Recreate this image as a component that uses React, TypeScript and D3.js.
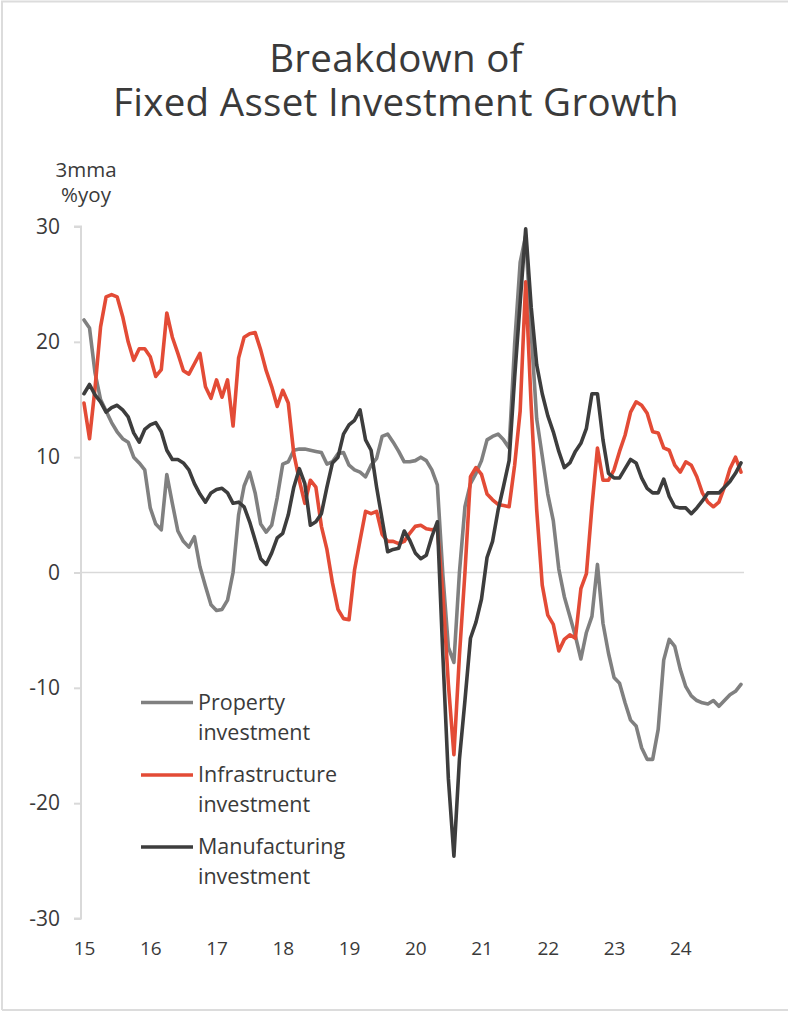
import React, { useEffect, useRef } from "react";
import * as d3 from "d3";

const property = [
  21.9, 21.2, 17.3, 15.0, 14.0, 13.0, 12.2, 11.6, 11.3, 10.0, 9.5, 8.9,
  5.6, 4.2, 3.7, 8.5, 6.0, 3.6, 2.7, 2.2, 3.1, 0.5, -1.2, -2.8,
  -3.3, -3.2, -2.4, 0.0, 5.0, 7.5, 8.7, 6.9, 4.2, 3.5, 4.1, 6.5,
  9.4, 9.6, 10.6, 10.7, 10.7, 10.6, 10.5, 10.4, 9.4, 9.6, 10.3, 10.4,
  9.3, 8.9, 8.7, 8.3, 9.3, 9.9, 11.8, 12.0, 11.3, 10.5, 9.6, 9.6,
  9.7, 10.0, 9.7, 8.9, 7.6, -0.2, -6.5, -7.8, 0.0, 5.7, 7.7, 8.6,
  9.7, 11.5, 11.8, 12.0, 11.5, 10.8, 19.8, 26.9, 29.2, 20.8, 13.3, 10.1,
  6.8, 4.5, 0.3, -2.1, -3.8, -5.5, -7.5, -5.2, -3.8, 0.7, -4.4, -7.0,
  -9.1, -9.6, -11.3, -12.8, -13.3, -15.2, -16.2, -16.2, -13.6, -7.6, -5.8, -6.4,
  -8.4, -9.9, -10.7, -11.1, -11.3, -11.4, -11.1, -11.6, -11.1, -10.6, -10.3, -9.7,
];

const infrastructure = [
  14.7, 11.6, 16.0, 21.3, 23.9, 24.1, 23.9, 22.2, 20.0, 18.4, 19.4, 19.4,
  18.7, 17.0, 17.6, 22.5, 20.4, 19.0, 17.5, 17.2, 18.1, 19.0, 16.1, 15.1,
  16.7, 15.2, 16.7, 12.7, 18.6, 20.4, 20.7, 20.8, 19.3, 17.5, 16.1, 14.4,
  15.8, 14.7, 10.3, 8.0, 6.0, 8.0, 7.4, 4.0, 2.0, -0.9, -3.2, -4.0,
  -4.1, 0.2, 2.8, 5.3, 5.1, 5.3, 3.3, 2.7, 2.7, 2.5, 2.7, 3.4,
  4.0, 4.1, 3.8, 3.7, 3.8, -1.8, -9.7, -15.8, -7.2, 0.0, 8.3, 9.1,
  8.5, 6.8, 6.3, 5.9, 5.8, 5.7, 9.3, 14.0, 25.2, 14.4, 5.4, -1.1,
  -3.7, -4.5, -6.8, -5.8, -5.4, -5.7, -1.4, -0.1, 5.7, 10.8, 8.0, 8.0,
  8.9, 10.5, 11.9, 13.9, 14.8, 14.5, 13.8, 12.2, 12.1, 10.8, 10.6, 9.3,
  8.7, 9.6, 9.3, 8.3, 6.9, 6.1, 5.7, 6.1, 7.4, 9.0, 10.0, 8.7,
];

const manufacturing = [
  15.5, 16.3, 15.4, 14.8, 13.9, 14.3, 14.5, 14.1, 13.5, 12.1, 11.3, 12.4,
  12.8, 13.0, 12.2, 10.6, 9.8, 9.8, 9.5, 8.9, 7.7, 6.8, 6.1, 6.9,
  7.2, 7.3, 6.9, 6.0, 6.1, 5.7, 4.4, 2.8, 1.2, 0.7, 1.7, 3.0,
  3.4, 5.0, 7.4, 9.0, 7.7, 4.1, 4.4, 5.1, 7.4, 9.5, 10.0, 12.0,
  12.8, 13.2, 14.1, 11.5, 10.6, 7.4, 4.6, 1.8, 2.0, 2.1, 3.6, 2.8,
  1.7, 1.2, 1.5, 3.1, 4.4, -7.2, -17.9, -24.6, -16.2, -11.1, -5.7, -4.3,
  -2.3, 1.3, 2.7, 5.4, 7.5, 9.7, 16.9, 23.4, 29.8, 23.0, 18.0, 15.5,
  13.6, 12.2, 10.5, 9.1, 9.5, 10.5, 11.2, 12.5, 15.5, 15.5, 11.5, 8.6,
  8.2, 8.2, 9.0, 9.8, 9.5, 8.2, 7.3, 6.9, 6.9, 8.1, 6.6, 5.7,
  5.6, 5.6, 5.1, 5.6, 6.2, 6.9, 6.9, 6.9, 7.4, 7.9, 8.6, 9.5,
];

const yearLabels = ["15", "16", "17", "18", "19", "20", "21", "22", "23", "24"];
const yTicks = [30, 20, 10, 0, -10, -20, -30];
const titleLines = ["Breakdown of", "Fixed Asset Investment Growth"];
const unitLines = ["3mma", "%yoy"];

const seriesNames = [
  ["Property", "investment"],
  ["Infrastructure", "investment"],
  ["Manufacturing", "investment"],
];
const seriesColors = ["#808080", "#e34b36", "#3d3d3d"];

const W = 788;
const H = 1012;
const FONT = "'Open Sans', Lato, sans-serif";
const TEXT = "#3a3a3a";

export default function App() {
  const ref = useRef<SVGSVGElement>(null);

  useEffect(() => {
    const svg = d3.select(ref.current);
    svg.selectAll("*").remove();

    const x = d3.scaleLinear().domain([0, 119]).range([84, 741]);
    const y = d3.scaleLinear().domain([-30, 30]).range([918.5, 226.5]);

    // frame
    svg.append("path")
      .attr("d", `M2,1010 L2,1.5 L790,1.5 M2,1010 L790,1010`)
      .attr("fill", "none")
      .attr("stroke", "#dcdcdc")
      .attr("stroke-width", 2);

    // title
    titleLines.forEach((t, j) => {
      svg.append("text")
        .attr("text-anchor", "middle")
        .attr("font-family", FONT)
        .attr("font-size", 38.5)
        .attr("letter-spacing", 0.3)
        .attr("fill", TEXT)
        .attr("x", 396)
        .attr("y", 72 + j * 44)
        .text(t);
    });

    // unit label
    unitLines.forEach((t, j) => {
      svg.append("text")
        .attr("text-anchor", "middle")
        .attr("font-family", FONT)
        .attr("font-size", 20.5)
        .attr("fill", TEXT)
        .attr("x", 86)
        .attr("y", 177 + j * 25)
        .text(t);
    });

    // zero line
    svg.append("line")
      .attr("x1", x(0) - 3).attr("x2", 744)
      .attr("y1", y(0)).attr("y2", y(0))
      .attr("stroke", "#d9d9d9").attr("stroke-width", 1.5);

    // y axis
    const yAxis = d3.axisLeft(y)
      .tickValues(yTicks)
      .tickSize(7)
      .tickPadding(14)
      .tickFormat((d) => String(d));
    const ya = svg.append("g").attr("transform", "translate(81,0)").call(yAxis);
    ya.select(".domain").attr("stroke", "#d9d9d9").attr("stroke-width", 2)
      .attr("d", `M-7,${y(30)}H0V${y(-30)}H-7`);
    ya.selectAll(".tick line").attr("stroke", "#d9d9d9").attr("stroke-width", 2);
    ya.selectAll(".tick text")
      .attr("font-family", FONT)
      .attr("font-size", 21)
      .attr("fill", TEXT);

    // x labels
    const xAxis = d3.axisBottom(x)
      .tickValues(yearLabels.map((_, i) => i * 12))
      .tickSize(0)
      .tickPadding(0)
      .tickFormat((_, i) => yearLabels[i]);
    const xa = svg.append("g").attr("transform", "translate(0,941)").call(xAxis);
    xa.select(".domain").remove();
    xa.selectAll(".tick text")
      .attr("font-family", FONT)
      .attr("font-size", 19)
      .attr("fill", TEXT);

    // lines
    const line = d3.line<number>()
      .x((_, i) => x(i))
      .y((d) => y(d))
      .curve(d3.curveLinear);
    const allSeries = [property, infrastructure, manufacturing];
    allSeries.forEach((s, k) => {
      svg.append("path")
        .datum(s)
        .attr("d", line)
        .attr("fill", "none")
        .attr("stroke", seriesColors[k])
        .attr("stroke-width", 3.6)
        .attr("stroke-linejoin", "round")
        .attr("stroke-linecap", "round");
    });

    // legend
    const legendY = [702.5, 775, 847];
    seriesNames.forEach((lines, k) => {
      const g = svg.append("g");
      g.append("line")
        .attr("x1", 141).attr("x2", 193)
        .attr("y1", legendY[k]).attr("y2", legendY[k])
        .attr("stroke", seriesColors[k])
        .attr("stroke-width", 3.6);
      lines.forEach((ln, j) => {
        g.append("text")
          .attr("font-family", FONT)
          .attr("font-size", 21.5)
          .attr("fill", TEXT)
          .attr("x", 198)
          .attr("y", legendY[k] + 7 + j * 30)
          .text(ln);
      });
    });
  }, []);

  return (
    <svg
      ref={ref}
      width={W}
      height={H}
      style={{ position: "absolute", left: 0, top: 0, background: "#fff" }}
    />
  );
}
